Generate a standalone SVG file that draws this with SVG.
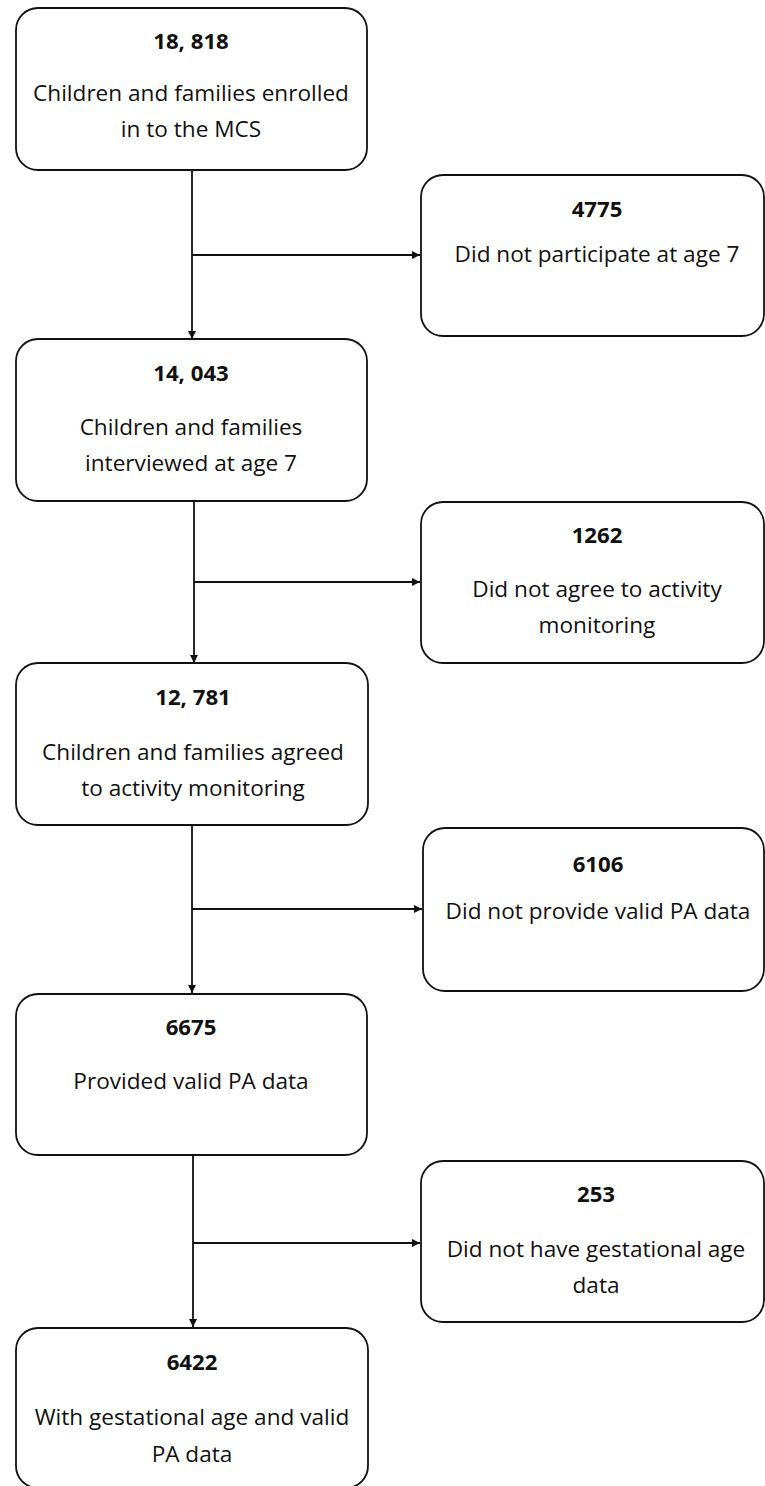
<svg xmlns="http://www.w3.org/2000/svg" width="765" height="1486" viewBox="0 0 765 1486">
<style>
.box{fill:#fff;stroke:#111;stroke-width:1.8}
.num{font-family:"Open Sans","Liberation Sans",sans-serif;font-weight:bold;font-size:22.2px;fill:#111;text-anchor:middle}
.lbl{font-family:"Open Sans","Liberation Sans",sans-serif;font-size:22.6px;fill:#111;text-anchor:middle}
.con{fill:none;stroke:#111;stroke-width:1.8}
</style>
<defs>
<marker id="ah" viewBox="0 0 10 10" refX="10" refY="5" markerWidth="8" markerHeight="8" markerUnits="userSpaceOnUse" orient="auto">
<path d="M0,0 L10,5 L0,10 z" fill="#111"/>
</marker>
</defs>
<rect width="765" height="1486" fill="#fff"/>
<g id="connectors">
<path class="con" d="M192,170 V339" marker-end="url(#ah)"/>
<path class="con" d="M192,255 H420" marker-end="url(#ah)"/>
<path class="con" d="M194,501 V663" marker-end="url(#ah)"/>
<path class="con" d="M194,582 H420" marker-end="url(#ah)"/>
<path class="con" d="M192,825 V993" marker-end="url(#ah)"/>
<path class="con" d="M192,909 H422" marker-end="url(#ah)"/>
<path class="con" d="M193,1155 V1327" marker-end="url(#ah)"/>
<path class="con" d="M193,1243 H420" marker-end="url(#ah)"/>
</g>
<g id="n1">
<rect class="box" x="16" y="8" width="351" height="162" rx="22"/>
<text class="num" x="191" y="49">18, 818</text>
<text class="lbl" x="191" y="101">Children and families enrolled</text>
<text class="lbl" x="191" y="137">in to the MCS</text>
</g>
<g id="r1">
<rect class="box" x="421" y="175" width="343" height="161" rx="22"/>
<text class="num" x="597" y="217">4775</text>
<text class="lbl" x="597" y="262">Did not participate at age 7</text>
</g>
<g id="n2">
<rect class="box" x="16" y="339" width="351" height="162" rx="22"/>
<text class="num" x="191" y="381">14, 043</text>
<text class="lbl" x="191" y="435">Children and families</text>
<text class="lbl" x="191" y="471">interviewed at age 7</text>
</g>
<g id="r2">
<rect class="box" x="421" y="502" width="343" height="161" rx="22"/>
<text class="num" x="597" y="543">1262</text>
<text class="lbl" x="597" y="597">Did not agree to activity</text>
<text class="lbl" x="597" y="633">monitoring</text>
</g>
<g id="n3">
<rect class="box" x="16" y="663" width="352" height="162" rx="22"/>
<text class="num" x="193" y="705">12, 781</text>
<text class="lbl" x="193" y="760">Children and families agreed</text>
<text class="lbl" x="193" y="796">to activity monitoring</text>
</g>
<g id="r3">
<rect class="box" x="423" y="828" width="341" height="163" rx="22"/>
<text class="num" x="598" y="872">6106</text>
<text class="lbl" x="598" y="919">Did not provide valid PA data</text>
</g>
<g id="n4">
<rect class="box" x="16" y="994" width="351" height="161" rx="22"/>
<text class="num" x="191" y="1035">6675</text>
<text class="lbl" x="191" y="1089">Provided valid PA data</text>
</g>
<g id="r4">
<rect class="box" x="421" y="1161" width="343" height="161" rx="22"/>
<text class="num" x="596" y="1202">253</text>
<text class="lbl" x="596" y="1257">Did not have gestational age</text>
<text class="lbl" x="596" y="1293">data</text>
</g>
<g id="n5">
<rect class="box" x="16" y="1328" width="352" height="160" rx="22"/>
<text class="num" x="192" y="1370">6422</text>
<text class="lbl" x="192" y="1425">With gestational age and valid</text>
<text class="lbl" x="192" y="1462">PA data</text>
</g>
</svg>
